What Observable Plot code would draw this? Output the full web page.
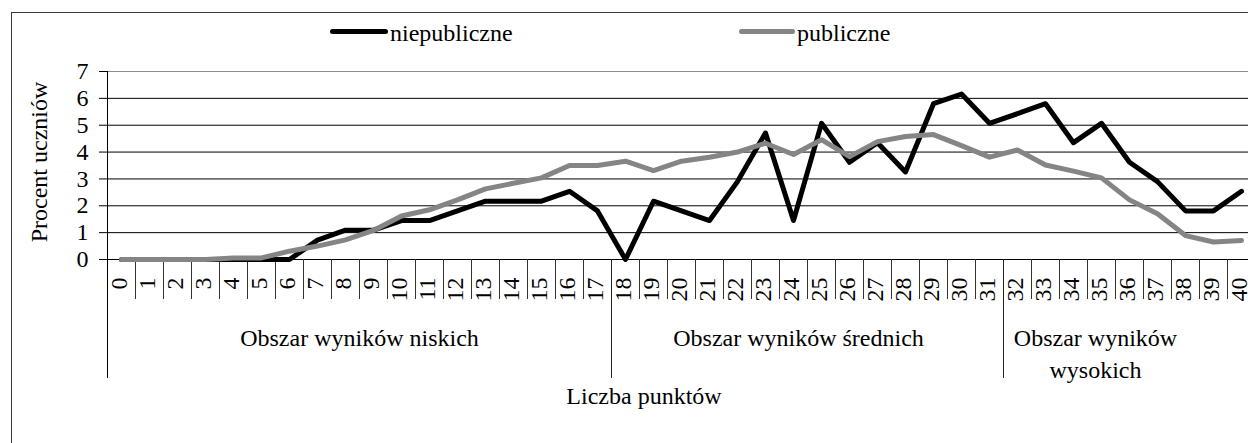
<!DOCTYPE html>
<html><head><meta charset="utf-8">
<script src="https://cdn.jsdelivr.net/npm/d3@7"></script>
<script src="https://cdn.jsdelivr.net/npm/@observablehq/plot@0.6"></script>
<style>
html,body{margin:0;padding:0;background:#fff;overflow:hidden;}
#wrap{position:relative;width:1248px;height:443px;overflow:hidden;font-family:"Liberation Serif","Times New Roman",serif;background:#fff;}
#border{position:absolute;left:11px;top:12px;width:2000px;height:1000px;border-left:1px solid #3a3a3a;border-top:1px solid #3a3a3a;pointer-events:none;}
#chart{position:absolute;left:0;top:0;}
.legtext{position:absolute;top:21px;font-size:24px;line-height:24px;height:24px;white-space:nowrap;color:#000;}
.sw{position:absolute;top:29px;height:5px;border-radius:3px;}
</style></head><body>
<div id="wrap"><div id="chart"></div><div id="border"></div><div id="legend"></div></div>
<script>
// ---- data ----
const categories = [0,1,2,3,4,5,6,7,8,9,10,11,12,13,14,15,16,17,18,19,20,21,22,23,24,25,26,27,28,29,30,31,32,33,34,35,36,37,38,39,40];
const niepubliczne = [0,0,0,0,0,0,0,0.72,1.09,1.09,1.45,1.45,1.81,2.17,2.17,2.17,2.54,1.81,0,2.17,1.81,1.45,2.90,4.71,1.45,5.07,3.62,4.35,3.26,5.80,6.16,5.07,5.43,5.80,4.35,5.07,3.62,2.90,1.81,1.81,2.54];
const publiczne = [0,0,0,0,0.06,0.06,0.31,0.5,0.73,1.08,1.62,1.85,2.22,2.63,2.84,3.04,3.5,3.5,3.66,3.31,3.66,3.81,4.0,4.33,3.91,4.46,3.83,4.39,4.58,4.65,4.24,3.81,4.08,3.52,3.29,3.04,2.22,1.7,0.89,0.65,0.71];
const seriesNames = ["niepubliczne", "publiczne"];
const yTicks = [0,1,2,3,4,5,6,7];
const groups = [
  {label: "Obszar wyników niskich", from: 0, to: 17},
  {label: "Obszar wyników średnich", from: 18, to: 31},
  {label: "Obszar wyników\nwysokich", from: 32, to: 40}
];
const yLabel = "Procent uczniów";
const xLabel = "Liczba punktów";

// ---- table ----
const table = [];
seriesNames.forEach((s, si) => {
  const vals = si === 0 ? niepubliczne : publiczne;
  categories.forEach((c, i) => table.push({cat: c, series: s, value: vals[i]}));
});

const colors = ["#000000", "#858585"];
const font = '"Liberation Serif","Times New Roman",serif';
const labelShift = [0, -9, -34];
const groupStarts = groups.map(g => g.from);

const svg = Plot.plot({
  width: 1248, height: 443,
  marginTop: 71, marginBottom: 65, marginLeft: 107, marginRight: 0,
  style: {fontFamily: font, fontSize: "24px", color: "#000", background: "transparent", overflow: "visible"},
  x: {type: "linear", domain: [categories[0] - 0.5, categories[categories.length - 1] + 0.5], range: [107, 107 + categories.length * 28], axis: null},
  y: {domain: [0, 7], range: [259, 71], ticks: yTicks, tickSize: 8, tickPadding: 11, label: null, tickFormat: d => String(d)},
  color: {domain: seriesNames, range: colors},
  marks: [
    Plot.ruleY(yTicks, {y: d => d, stroke: d => d === 7 ? "#8c8c8c" : "#000", strokeWidth: 1}),
    Plot.ruleX([categories[0]], {x: d => d - 0.5, stroke: "#000"}),
    Plot.ruleX(groups.slice(1), {x: g => g.from - 0.5, insetTop: 188, stroke: "#222"}),
    Plot.ruleX(categories.slice(1).filter(c => !groupStarts.includes(c)), {x: c => c - 0.5, insetTop: 188, insetBottom: 79, stroke: "#333"}),
    Plot.line(table, {x: "cat", y: "value", z: "series", stroke: "series", strokeWidth: 5, strokeLinejoin: "round", strokeLinecap: "round"}),
    Plot.text(categories, {x: d => d, y: 0, text: d => String(d), rotate: -90, textAnchor: "end", lineAnchor: "middle", dy: 18, dx: -2, fontSize: 24, ariaLabel: "cat-labels", fill: "#000"}),
    ...groups.map((g, i) => Plot.text([g], {x: d => (d.from + d.to) / 2, y: 0, text: "label", lineAnchor: "top", lineHeight: 1.33, dy: 64, dx: labelShift[i], fontSize: 24, fill: "#000"})),
    Plot.text([xLabel], {frameAnchor: "bottom", lineAnchor: "top", dy: 8, dx: -34, fontSize: 24, fill: "#000"}),
    Plot.text([yLabel], {frameAnchor: "left", rotate: -90, textAnchor: "middle", lineAnchor: "middle", dx: -68, dy: -63, fontSize: 24, fill: "#000"})
  ]
});

d3.select(svg).selectAll('g[aria-label="cat-labels"] text').attr("transform", function() {
  return (this.getAttribute("transform") || "") + " scale(1,0.68)";
});
document.getElementById("chart").appendChild(svg);

// ---- legend ----
const legend = document.getElementById("legend");
const legPos = [{sw: 330, w: 58, tx: 390}, {sw: 739, w: 56, tx: 797}];
seriesNames.forEach((s, i) => {
  const sw = document.createElement("div");
  sw.className = "sw";
  sw.style.left = legPos[i].sw + "px";
  sw.style.width = legPos[i].w + "px";
  sw.style.background = colors[i];
  legend.appendChild(sw);
  const t = document.createElement("div");
  t.className = "legtext";
  t.style.left = legPos[i].tx + "px";
  t.textContent = s;
  legend.appendChild(t);
});
</script>
</body></html>
